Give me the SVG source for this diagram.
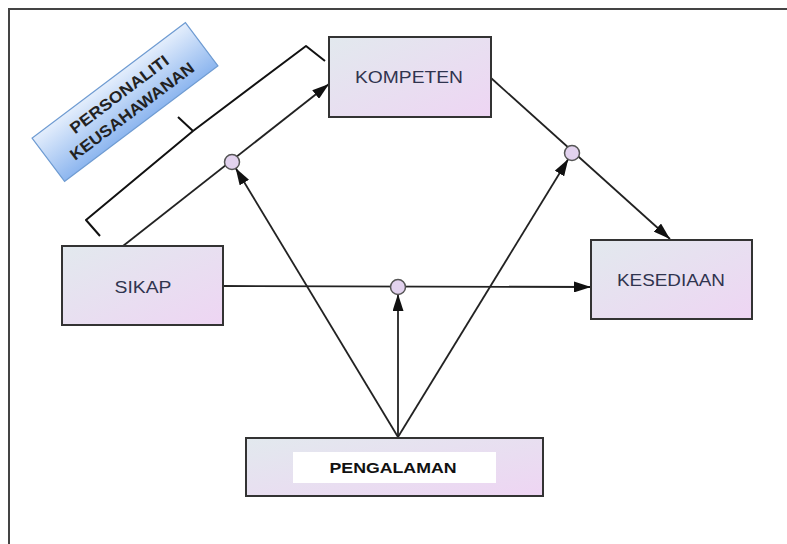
<svg xmlns="http://www.w3.org/2000/svg" width="787" height="544" viewBox="0 0 787 544">
<defs>
  <linearGradient id="boxGrad" x1="0" y1="0" x2="1" y2="1">
    <stop offset="0" stop-color="#e2e9ee"/>
    <stop offset="1" stop-color="#eed5f3"/>
  </linearGradient>
  <linearGradient id="labelGrad" x1="0" y1="0" x2="0" y2="1">
    <stop offset="0" stop-color="#e4eefc"/>
    <stop offset="1" stop-color="#8db6ef"/>
  </linearGradient>
  <marker id="arrow" viewBox="0 0 17 11" refX="17" refY="5.5" markerWidth="17" markerHeight="11" markerUnits="userSpaceOnUse" orient="auto">
    <path d="M0,0 L17,5.5 L0,11 z" fill="#111"/>
  </marker>
</defs>
<style>
  .box { fill: url(#boxGrad); stroke: #333; stroke-width: 2; }
  .lbl { font-family: "Liberation Sans", Arial, sans-serif; font-size: 16px; fill: #30344f; text-anchor: middle; }
  .conn { stroke: #222; stroke-width: 1.8; fill: none; }
  .arr { marker-end: url(#arrow); }
  .mod { fill: #e2d2ee; stroke: #555; stroke-width: 1.5; }
  .brace { stroke: #111; stroke-width: 2; fill: none; stroke-linejoin: round; }
  .tag { font-family: "Liberation Sans", Arial, sans-serif; font-size: 16px; font-weight: bold; fill: #222; text-anchor: middle; }
</style>
<rect width="787" height="544" fill="#fff"/>
<g id="frame">
  <path d="M9,544 L9,9 L787,9" fill="none" stroke="#444" stroke-width="2"/>
</g>
<g id="connectors">
  <line class="conn arr" x1="123" y1="246" x2="329" y2="84"/>
  <line class="conn arr" x1="491" y1="78" x2="670" y2="239"/>
  <line class="conn arr" x1="223" y1="286" x2="591" y2="287"/>
  <line class="conn arr" x1="398" y1="437" x2="235.6" y2="168"/>
  <line class="conn arr" x1="398" y1="437" x2="568.3" y2="159"/>
  <line class="conn arr" x1="398" y1="437" x2="398" y2="294"/>
  <circle class="mod" cx="232" cy="162" r="7.5"/>
  <circle class="mod" cx="572" cy="153" r="7.5"/>
  <circle class="mod" cx="398" cy="287" r="7.5"/>
</g>
<g id="brace">
  <path class="brace" d="M100,236 L86,220 L193,131 L178,117 M193,131 L306,46 L325,61"/>
</g>
<g id="label-personaliti">
  <g transform="translate(125,102) rotate(-37)">
    <rect x="-96" y="-27" width="192" height="54" fill="url(#labelGrad)" stroke="#6e9bd2" stroke-width="1.2"/>
    <text class="tag" x="0" y="-4" textLength="119" lengthAdjust="spacingAndGlyphs">PERSONALITI</text>
    <text class="tag" x="0" y="17" textLength="151" lengthAdjust="spacingAndGlyphs">KEUSAHAWANAN</text>
  </g>
</g>
<g id="node-kompeten">
  <rect class="box" x="329" y="37" width="162" height="80"/>
  <text class="lbl" x="409" y="83" textLength="108" lengthAdjust="spacingAndGlyphs">KOMPETEN</text>
</g>
<g id="node-sikap">
  <rect class="box" x="62" y="246" width="161" height="79"/>
  <text class="lbl" x="143" y="293" textLength="57" lengthAdjust="spacingAndGlyphs">SIKAP</text>
</g>
<g id="node-kesediaan">
  <rect class="box" x="591" y="240" width="161" height="79"/>
  <text class="lbl" x="671" y="286" textLength="108" lengthAdjust="spacingAndGlyphs">KESEDIAAN</text>
</g>
<g id="node-pengalaman">
  <rect class="box" x="246" y="438" width="297" height="58"/>
  <rect x="293" y="452" width="203" height="31" fill="#fff"/>
  <text x="393" y="473" font-family="Liberation Sans, Arial, sans-serif" font-size="15" font-weight="bold" fill="#111" text-anchor="middle" textLength="127" lengthAdjust="spacingAndGlyphs">PENGALAMAN</text>
</g>
</svg>
